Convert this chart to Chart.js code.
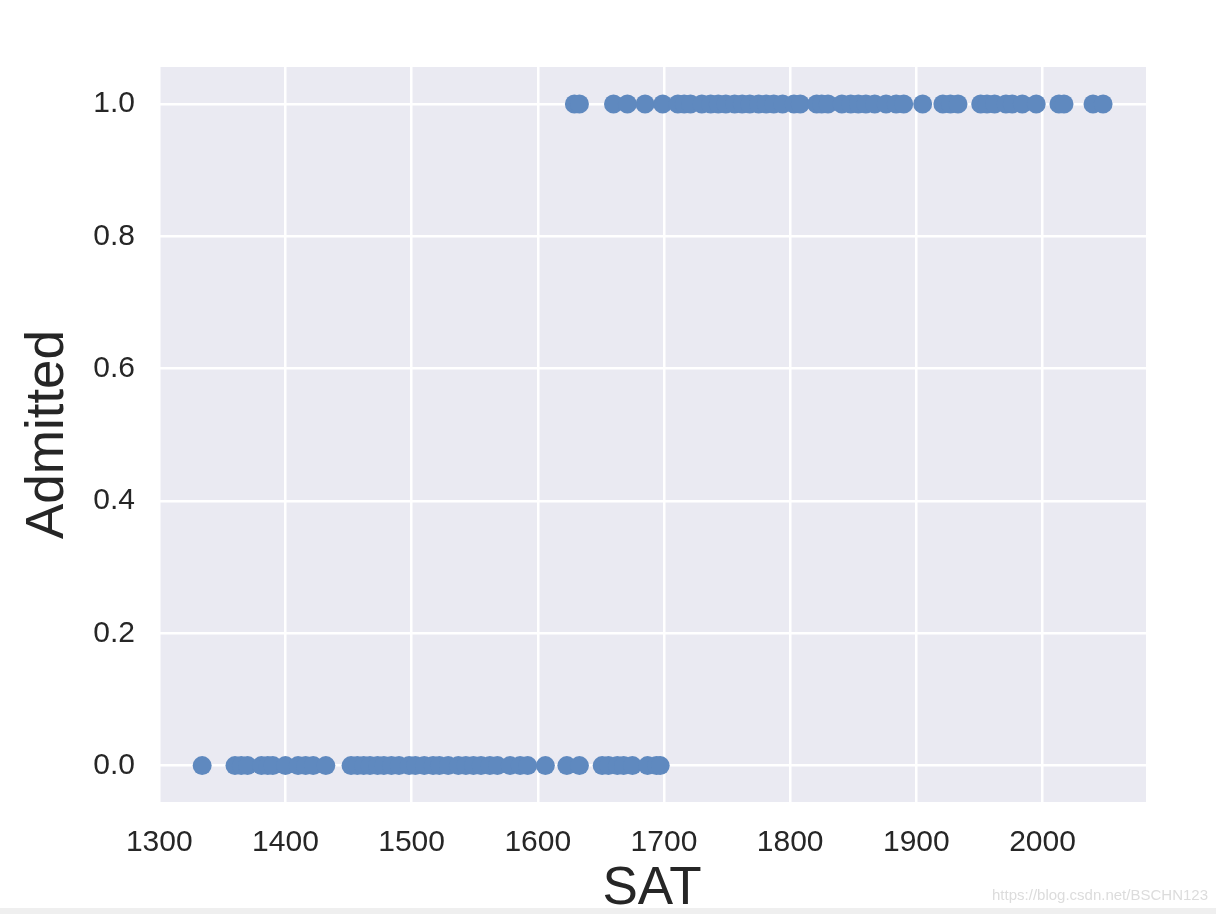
<!DOCTYPE html>
<html>
<head>
<meta charset="utf-8">
<script src="https://cdn.jsdelivr.net/npm/chart.js@4"></script>
<style>
  html, body { margin: 0; padding: 0; background: #fff; overflow: hidden; }
  #wrap { position: relative; width: 1216px; height: 914px; }
  #strip { position: absolute; left: 0; top: 908px; width: 1216px; height: 6px; background: #efefef; }
  #mark { position: absolute; right: 8px; top: 886px; font: 15px "Liberation Sans", Arial, sans-serif; color: #dcdcdc; }
</style>
</head>
<body>
<div id="wrap">
  <canvas id="satChart" width="1216" height="914"></canvas>
  <div id="strip"></div>
  <div id="mark">https://blog.csdn.net/BSCHN123</div>
</div>
<script>
// SAT scores of students who were not admitted (Admitted = 0)
const rejectedSat = [
  1334, 1360, 1365, 1370, 1381, 1386, 1390, 1400, 1410, 1416, 1422, 1432,
  1452, 1457, 1462, 1467, 1473, 1478, 1484, 1490, 1498, 1503, 1510, 1517,
  1522, 1529, 1537, 1543, 1549, 1555, 1562, 1568, 1578, 1586, 1592, 1606,
  1623, 1633, 1651, 1656, 1663, 1668, 1675, 1687, 1694, 1697
];
// SAT scores of students who were admitted (Admitted = 1)
const admittedSat = [
  1629, 1633, 1660, 1671, 1685, 1699, 1711, 1716, 1721, 1730, 1737, 1743,
  1749, 1756, 1762, 1768, 1775, 1781, 1787, 1794, 1803, 1808, 1821, 1825,
  1830, 1841, 1848, 1854, 1860, 1867, 1876, 1884, 1890, 1905, 1921, 1927,
  1933, 1951, 1956, 1962, 1971, 1976, 1984, 1995, 2013, 2017, 2040, 2048
];
const xTicks = [1300, 1400, 1500, 1600, 1700, 1800, 1900, 2000];
const yTicks = [0, 0.2, 0.4, 0.6, 0.8, 1.0];

const points = rejectedSat.map(s => ({ x: s, y: 0 }))
  .concat(admittedSat.map(s => ({ x: s, y: 1 })));

// seaborn-ish grey plot background
const plotBg = {
  id: 'plotBg',
  beforeDraw(chart) {
    const { ctx, chartArea: a } = chart;
    ctx.save();
    ctx.fillStyle = '#eaeaf2';
    ctx.fillRect(a.left, a.top, a.right - a.left, a.bottom - a.top);
    ctx.restore();
  }
};

const tickFont = { family: '"Liberation Sans", Arial, sans-serif', size: 30 };
const titleFont = { family: '"Liberation Sans", Arial, sans-serif', size: 53 };

new Chart(document.getElementById('satChart'), {
  type: 'scatter',
  data: {
    datasets: [{
      label: 'Admitted',
      data: points,
      backgroundColor: '#5f89bf',
      borderWidth: 0,
      pointRadius: 9.5,
      pointHoverRadius: 9.5
    }]
  },
  options: {
    responsive: false,
    animation: false,
    layout: {
      padding: { left: 0, top: 67, right: 70, bottom: 0 }
    },
    plugins: {
      legend: { display: false },
      tooltip: { enabled: false }
    },
    scales: {
      x: {
        type: 'linear',
        min: 1299,
        max: 2082,
        afterBuildTicks: (scale) => { scale.ticks = xTicks.map(v => ({ value: v })); },
        afterFit: (scale) => { scale.height = 112; },
        border: { display: false },
        grid: { color: '#ffffff', lineWidth: 2.5, drawTicks: false },
        ticks: {
          color: '#262626',
          font: tickFont,
          padding: 23,
          maxRotation: 0,
          callback: (v) => String(v)
        },
        title: {
          display: true,
          text: 'SAT',
          color: '#262626',
          font: titleFont,
          padding: { top: 0, bottom: -7 }
        }
      },
      y: {
        type: 'linear',
        min: -0.055,
        max: 1.056,
        afterBuildTicks: (scale) => { scale.ticks = yTicks.map(v => ({ value: v })); },
        afterFit: (scale) => { scale.width = 158; },
        border: { display: false },
        grid: { color: '#ffffff', lineWidth: 2.5, drawTicks: false },
        ticks: {
          color: '#262626',
          font: tickFont,
          padding: 23,
          callback: (v) => v.toFixed(1)
        },
        title: {
          display: true,
          text: 'Admitted',
          color: '#262626',
          font: titleFont,
          padding: { top: 17, bottom: 0 }
        }
      }
    }
  },
  plugins: [plotBg]
});
</script>
</body>
</html>
